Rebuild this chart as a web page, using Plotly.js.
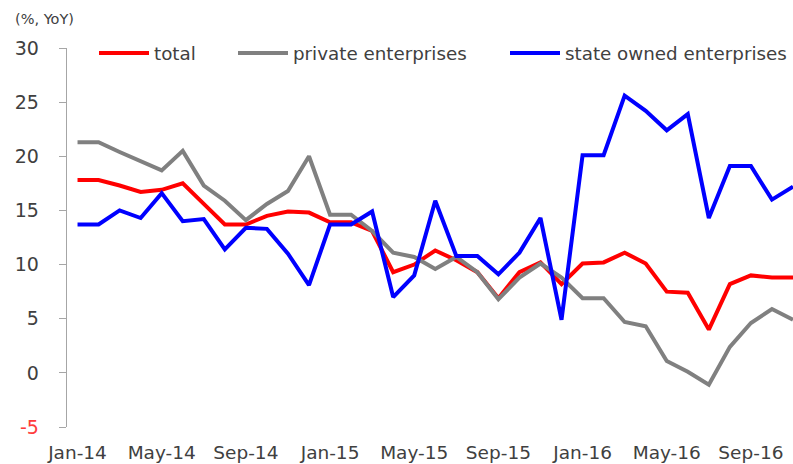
<!DOCTYPE html>
<html>
<head>
<meta charset="utf-8">
<script src="https://cdn.plot.ly/plotly-3.0.1.min.js"></script>
<style>html,body{margin:0;padding:0;background:#fff;}#chart{width:793px;height:464px;}</style>
</head>
<body>
<div id="chart"></div>
<script>
var months = ["Jan-14","Feb-14","Mar-14","Apr-14","May-14","Jun-14","Jul-14","Aug-14","Sep-14","Oct-14","Nov-14","Dec-14",
  "Jan-15","Feb-15","Mar-15","Apr-15","May-15","Jun-15","Jul-15","Aug-15","Sep-15","Oct-15","Nov-15","Dec-15",
  "Jan-16","Feb-16","Mar-16","Apr-16","May-16","Jun-16","Jul-16","Aug-16","Sep-16","Oct-16","Nov-16"];
var total = [17.8,17.8,17.3,16.7,16.9,17.5,15.6,13.7,13.7,14.5,14.9,14.8,
  13.9,13.9,13.1,9.3,10.0,11.3,10.4,9.3,6.9,9.3,10.2,8.2,
  10.1,10.2,11.1,10.1,7.5,7.4,4.0,8.2,9.0,8.8,8.8];
var privateEnt = [21.3,21.3,20.4,19.5,18.7,20.5,17.3,15.9,14.1,15.6,16.8,20.0,
  14.6,14.6,13.1,11.1,10.7,9.6,10.7,9.3,6.8,8.8,10.1,8.8,
  6.9,6.9,4.7,4.3,1.1,0.1,-1.1,2.4,4.6,5.9,4.9];
var stateEnt = [13.7,13.7,15.0,14.3,16.6,14.0,14.2,11.4,13.4,13.3,11.0,8.1,
  13.7,13.7,14.9,7.0,9.0,15.9,10.8,10.8,9.1,11.1,14.3,4.9,
  20.1,20.1,25.6,24.2,22.4,23.9,14.3,19.1,19.1,16.0,17.2];
var yTicks = [-5,0,5,10,15,20,25,30];

var idx = months.map(function(m,i){return i;});
var labelIdx = idx.filter(function(i){return i%4===0;});
var labelText = labelIdx.map(function(i){return months[i];});
var boundaryIdx = labelIdx.slice(1).map(function(i){return i-0.5;});
var yText = yTicks.map(function(v){return v<0 ? '<span style="color:#ff3b3b">'+v+'</span>' : String(v);});

var FONT = "DejaVu Sans, Verdana, sans-serif";
var TXT = "#404040";
var AX = "#a6a6a6";
var xr = [-0.5, 34.0];

var traces = [
  {x: idx, y: total, type: "scatter", mode: "lines", name: "total", legend: "legend",
   line: {color: "#ff0000", width: 4}},
  {x: idx, y: privateEnt, type: "scatter", mode: "lines", name: "private enterprises", legend: "legend2",
   line: {color: "#808080", width: 4}},
  {x: idx, y: stateEnt, type: "scatter", mode: "lines", name: "state owned enterprises", legend: "legend3",
   line: {color: "#0000ff", width: 4}}
];

function leg(xpx){
  return {x: (xpx-67)/726, y: (427-53)/379, xanchor: "left", yanchor: "middle",
    orientation: "h", bgcolor: "rgba(0,0,0,0)", borderwidth: 0, itemwidth: 50,
    font: {family: FONT, size: 18.3, color: TXT}};
}

var layout = {
  width: 793, height: 464,
  margin: {l: 67, r: 0, t: 48, b: 37, pad: 0, autoexpand: false},
  paper_bgcolor: "#ffffff", plot_bgcolor: "#ffffff",
  font: {family: FONT, color: TXT},
  showlegend: true,
  legend: leg(94), legend2: leg(233), legend3: leg(505),
  xaxis: {range: xr, tickmode: "array", tickvals: labelIdx, ticktext: labelText,
    ticks: "", showline: false, showgrid: false, zeroline: false,
    tickfont: {family: FONT, size: 18.5, color: TXT}, ticklabelstandoff: 12, fixedrange: true},
  xaxis2: {overlaying: "x", anchor: "free", position: 5/35, side: "bottom", range: xr,
    tickmode: "array", tickvals: boundaryIdx, ticks: "outside", ticklen: 7, tickcolor: AX, tickwidth: 1,
    showticklabels: false, showline: true, linecolor: AX, linewidth: 1.3, showgrid: false, zeroline: false},
  yaxis: {range: [-5, 30], tickmode: "array", tickvals: yTicks, ticktext: yText,
    ticks: "outside", ticklen: 7, tickcolor: AX, tickwidth: 1, showline: true, linecolor: AX, linewidth: 1.3,
    showgrid: false, zeroline: false, tickfont: {family: FONT, size: 19, color: TXT}, ticklabelstandoff: 16},
  annotations: [{text: "(%, YoY)", xref: "paper", yref: "paper", x: (44-67)/726, y: (427-19)/379,
    xanchor: "center", yanchor: "middle", showarrow: false, font: {family: FONT, size: 14.5, color: TXT}}]
};

Plotly.newPlot("chart", traces, layout, {displayModeBar: false, staticPlot: true});
</script>
</body>
</html>
